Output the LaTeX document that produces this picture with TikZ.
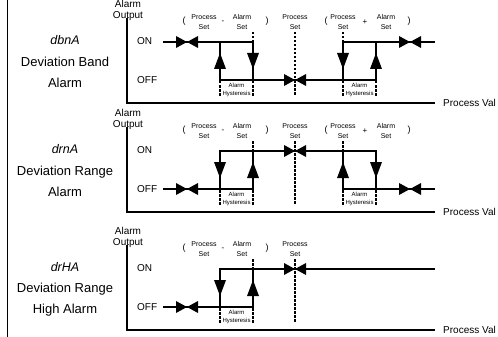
\documentclass[tikz,border=0pt]{standalone}
\usepackage{fontspec}
\setmainfont{Liberation Sans}
\tikzset{
  sig/.style={line width=1.8pt},
  axis/.style={line width=1.8pt},
  setmark/.style={line width=1.5pt,dash pattern=on 2.5pt off 1.5pt},
  big/.style={font=\fontsize{13}{21}\selectfont,align=center,inner sep=0pt},
  code/.style={font=\fontsize{12.5}{14}\selectfont\itshape,inner sep=0pt},
  lbl/.style={font=\fontsize{10}{11}\selectfont,align=center,inner sep=0pt},
  tiny/.style={font=\fontsize{7}{10}\selectfont,align=center,inner sep=0pt},
  hyst/.style={font=\fontsize{6}{8.5}\selectfont,align=center,inner sep=0pt},
  paren/.style={font=\fontsize{9}{10}\selectfont,inner sep=0pt},
  op/.style={font=\fontsize{8}{9}\selectfont,inner sep=0pt},
  bowtie/.pic={\fill (-11,-6) -- (0,0) -- (-11,6) -- cycle (11,-6) -- (0,0) -- (11,6) -- cycle;},
  vtip/.pic={\fill (-16,-6) -- (0,0) -- (-16,6) -- cycle;}
}
\begin{document}
\begin{tikzpicture}[x=1pt,y=-1pt]
\useasboundingbox (0,0) rectangle (498,337);
\draw[axis] (7.5,0) -- (7.5,337);
% frame, labels and set markers of each panel
\foreach \d/\code/\nameA/\nameB [count=\i] in {0/dbnA/Deviation Band/Alarm,109/drnA/Deviation Range/Alarm,227/drHA/Deviation Range/High Alarm}{
  \begin{scope}[shift={(0,\d)}]
  \node[code] (code\i) at (65,40) {\code};
  \node[big] (name\i) at (65,72.5) {\nameA\\\nameB};
  \node[lbl] (out\i) at (128,10) {Alarm\\Output};
  \node[lbl,anchor=west] (on\i) at (137,41) {ON};
  \node[lbl,anchor=west] (off\i) at (137,80) {OFF};
  \node[lbl,anchor=west] (pv\i) at (443,103) {Process Val};
  \draw[axis] (127,18) -- (127,103) -- (435,103);
  \node[paren] (lpa\i) at (184,21.5) {(};
  \node[tiny] (psa\i) at (204,22) {Process\\Set};
  \node[op] (minus\i) at (223,22) {-};
  \node[tiny] (asa\i) at (242,22) {Alarm\\Set};
  \node[paren] (rpa\i) at (267,21.5) {)};
  \node[tiny] (sp\i) at (295,22) {Process\\Set};
  \node[hyst] (hya\i) at (236.5,90) {Alarm\\Hysteresis};
  \end{scope}
}
\foreach \d [count=\i] in {0,109}{
  \begin{scope}[shift={(0,\d)}]
  \node[paren] (lpb\i) at (326,21.5) {(};
  \node[tiny] (psb\i) at (343,22) {Process\\Set};
  \node[op] (plus\i) at (365,22) {+};
  \node[tiny] (asb\i) at (386,22) {Alarm\\Set};
  \node[paren] (rpb\i) at (409,21.5) {)};
  \node[hyst] (hyb\i) at (359.5,90) {Alarm\\Hysteresis};
  \end{scope}
}

% dbnA
\draw[sig] (163,42) -- (253,42) -- (253,80);
\draw[sig] (220,42) -- (220,80) -- (376,80) -- (376,42);
\draw[sig] (343,80) -- (343,42) -- (435,42);
\pic at (187,42) {bowtie};
\pic at (295,80) {bowtie};
\pic at (410,42) {bowtie};
\pic[rotate=90] at (220,53) {vtip};
\pic[rotate=-90] at (253,69) {vtip};
\pic[rotate=-90] at (343,69) {vtip};
\pic[rotate=90] at (376,53) {vtip};

% drnA
\begin{scope}[shift={(0,109)}]
\draw[sig] (163,80) -- (253,80) -- (253,42);
\draw[sig] (220,80) -- (220,42) -- (376,42) -- (376,80);
\draw[sig] (343,42) -- (343,80) -- (435,80);
\pic at (187,80) {bowtie};
\pic at (295,42) {bowtie};
\pic at (410,80) {bowtie};
\pic[rotate=-90] at (220,69) {vtip};
\pic[rotate=90] at (253,53) {vtip};
\pic[rotate=90] at (343,53) {vtip};
\pic[rotate=-90] at (376,69) {vtip};
\end{scope}

% drHA
\begin{scope}[shift={(0,227)}]
\draw[sig] (163,80) -- (253,80) -- (253,42);
\draw[sig] (220,80) -- (220,42) -- (435,42);
\pic at (187,80) {bowtie};
\pic at (295,42) {bowtie};
\pic[rotate=-90] at (220,69) {vtip};
\pic[rotate=90] at (253,53) {vtip};
\end{scope}

% set markers
\foreach \d in {0,109,227}{
  \draw[setmark] (295,32+\d) -- (295,96+\d);
  \draw[setmark] (253,32+\d) -- (253,41+\d);
  \draw[setmark] (220,81+\d) -- (220,97+\d);
  \draw[setmark] (253,81+\d) -- (253,97+\d);
}
\foreach \d in {0,109}{
  \draw[setmark] (343,32+\d) -- (343,41+\d);
  \draw[setmark] (343,81+\d) -- (343,97+\d);
  \draw[setmark] (376,81+\d) -- (376,97+\d);
}
\end{tikzpicture}
\end{document}
